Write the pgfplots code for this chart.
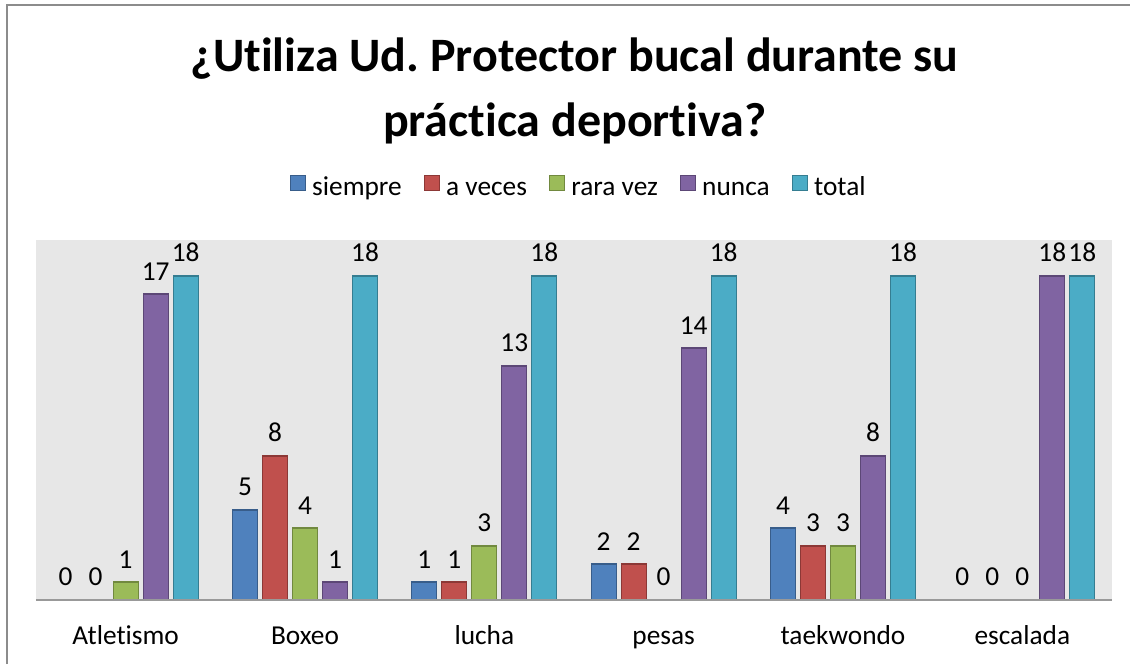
\documentclass[border=0pt]{standalone}
\usepackage{fontspec}
\setmainfont{Carlito}[Ligatures={NoCommon}]
\usepackage{pgfplots}
\pgfplotsset{compat=1.18}
\frenchspacing
\definecolor{c1}{HTML}{4F81BD}\definecolor{c1d}{HTML}{385D8A}
\definecolor{c2}{HTML}{C0504D}\definecolor{c2d}{HTML}{8C3836}
\definecolor{c3}{HTML}{9BBB59}\definecolor{c3d}{HTML}{71893F}
\definecolor{c4}{HTML}{8064A2}\definecolor{c4d}{HTML}{5C4776}
\definecolor{c5}{HTML}{4BACC6}\definecolor{c5d}{HTML}{357D91}
\definecolor{bg}{HTML}{E7E7E7}
\definecolor{frame}{HTML}{8C8C8C}
\begin{document}
\begin{tikzpicture}[x=1pt,y=1pt]
\path[use as bounding box] (0,0) rectangle (847.5,498);
\draw[line width=1.5pt, frame] (5.25,0) -- (5.25,494.25) -- (847.5,494.25);
\node[font=\bfseries\fontsize{36}{48.75}\selectfont, align=center] at (431,429.5) {¿Utiliza Ud.\ Protector bucal durante su\\práctica deportiva?};
\begin{axis}[at={(27pt,48pt)}, anchor=south west,
  width=807pt, height=270pt, scale only axis,
  ymin=0, ymax=20, xmin=-0.5, xmax=5.5,
  ybar=3.75pt, bar width=18.75pt,
  axis background/.style={fill=bg},
  axis on top,
  axis y line=none, axis x line*=bottom,
  x axis line style={-, draw=gray!80, line width=1.6pt},
  xtick={0,...,5}, xticklabels={Atletismo,Boxeo,lucha,pesas,taekwondo,escalada},
  major tick length=0pt,
  xticklabel style={font=\fontsize{20.5}{24}\selectfont, text height=14pt, text depth=4pt, yshift=-15.5pt},
  nodes near coords,
  every node near coord/.append style={font=\fontsize{20.5}{24}\selectfont, text=black, yshift=6.7pt},
  /pgf/number format/assume math mode=true,
  legend style={at={(0.505,1.142)}, anchor=center, draw=none, fill=none, legend columns=5,
    font=\fontsize{20.5}{24}\selectfont,
    nodes={text height=14pt, text depth=4pt, inner xsep=2.5pt},
    /tikz/every odd column/.append style={column sep=2pt},
    /tikz/every even column/.append style={column sep=14pt}},
  legend image code/.code={\draw[#1, line width=0.8pt] (0pt,-1.5pt) rectangle (11.5pt,10pt);},
]
\addplot[fill=c1, draw=c1d, line width=0.9pt] coordinates {(0,0) (1,5) (2,1) (3,2) (4,4) (5,0)};
\addplot[fill=c2, draw=c2d, line width=0.9pt] coordinates {(0,0) (1,8) (2,1) (3,2) (4,3) (5,0)};
\addplot[fill=c3, draw=c3d, line width=0.9pt] coordinates {(0,1) (1,4) (2,3) (3,0) (4,3) (5,0)};
\addplot[fill=c4, draw=c4d, line width=0.9pt] coordinates {(0,17) (1,1) (2,13) (3,14) (4,8) (5,18)};
\addplot[fill=c5, draw=c5d, line width=0.9pt] coordinates {(0,18) (1,18) (2,18) (3,18) (4,18) (5,18)};
\legend{siempre,a veces,rara vez,nunca,total}
\end{axis}
\end{tikzpicture}
\end{document}
